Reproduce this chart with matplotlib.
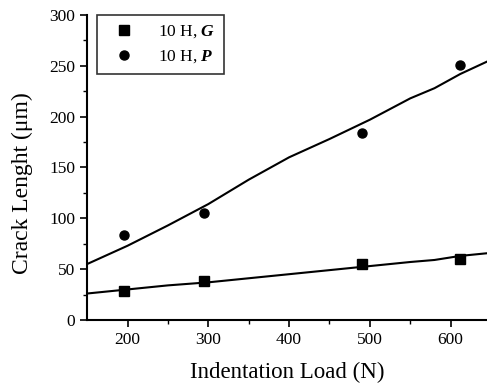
import matplotlib.pyplot as plt

plt.rcParams['font.family'] = 'Liberation Serif'
plt.rcParams['mathtext.fontset'] = 'custom'
plt.rcParams['mathtext.bf'] = 'Liberation Serif:italic:bold'

# measured points
load = [195, 295, 490, 612]
crack_g = [28, 38, 55, 60]
crack_p = [84, 105, 184, 251]

# fitted curves
fit_x = [150, 200, 250, 300, 350, 400, 450, 500, 550, 580, 612, 650]
fit_g = [26, 30, 34, 37, 41, 45, 49, 53, 57, 59, 63, 66]
fit_p = [55, 73, 93, 114, 138, 160, 178, 197, 218, 228, 242, 256]

fig = plt.figure(figsize=(4.87, 3.85), dpi=100)
ax = fig.add_axes([0.179, 0.169, 0.821, 0.792])

ax.plot(fit_x, fit_g, color='black', lw=1.5)
ax.plot(fit_x, fit_p, color='black', lw=1.5)
ax.plot(load, crack_g, 's', color='black', markersize=7.5, label=r'10 H, $\mathbf{G}$')
ax.plot(load, crack_p, 'o', color='black', markersize=6.5, label=r'10 H, $\mathbf{P}$')

ax.set_xlim(150, 645)
ax.set_ylim(0, 300)
ax.set_xticks([200, 300, 400, 500, 600])
ax.set_xticks([250, 350, 450, 550], minor=True)
ax.set_yticks(range(0, 301, 50))
ax.set_yticks(range(25, 300, 50), minor=True)
ax.tick_params(labelsize=12.5, width=1.2, length=5)
ax.tick_params(which='minor', width=1, length=3)
ax.spines['top'].set_visible(False)
ax.spines['right'].set_visible(False)
ax.spines['left'].set_linewidth(1.5)
ax.spines['bottom'].set_linewidth(1.5)

ax.set_xlabel('Indentation Load (N)', fontsize=16.5, labelpad=10)
ax.set_ylabel('Crack Lenght (\u03bcm)', fontsize=17)
ax.yaxis.set_label_coords(-0.135, 0.45)

leg = ax.legend(loc='upper left', fontsize=12.5, frameon=True, fancybox=False,
                edgecolor='black', borderpad=0.5, handlelength=2.1,
                handletextpad=0.9, labelspacing=0.45, borderaxespad=0,
                bbox_to_anchor=(0.025, 1.0))
leg.get_frame().set_linewidth(1.2)

fig.savefig('out.png', dpi=100)
